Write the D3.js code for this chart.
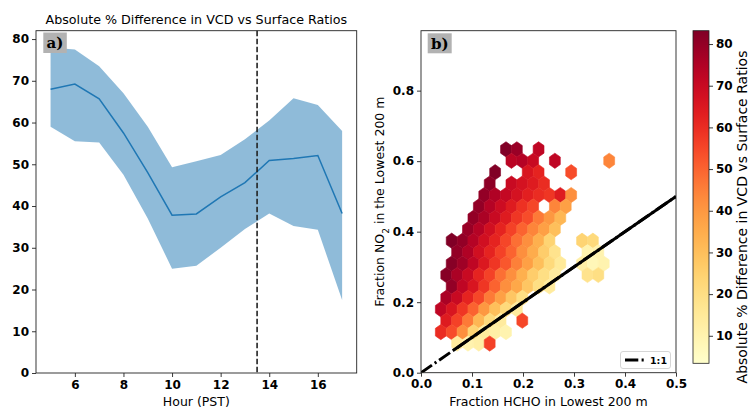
<!DOCTYPE html>
<html><head><meta charset="utf-8">
<script src="https://cdn.jsdelivr.net/npm/d3@7"></script>
<style>
body{margin:0;background:#fff}
text{font-family:"DejaVu Sans",sans-serif}
</style>
</head><body><svg id="c" width="750" height="408" xmlns="http://www.w3.org/2000/svg"></svg>
<script>
// ---------- Panel a data ----------
const hours = [5,6,7,8,9,10,11,12,13,14,15,16,17];
const meanDiff  = [68.0,69.2,65.7,57.5,48.0,37.8,38.1,42.2,45.6,50.9,51.4,52.1,38.2];
const upperDiff = [78.0,77.5,73.5,67.0,59.0,49.3,50.7,52.2,56.0,60.5,65.8,64.2,58.0];
const lowerDiff = [59.0,55.5,55.2,47.5,37.0,25.0,25.7,30.0,34.5,38.2,35.2,34.3,17.5];
const overpassHour = 13.5;
const hourTicks = [6,8,10,12,14,16];
const diffTicks = [0,10,20,30,40,50,60,70,80];

// ---------- Panel b data (hexbin cells) ----------
const hexOrigin = [0.1986, 0.1475];   // centre of reference cell (col 0,row 0)
const hexStep = [0.0213, 0.0324];     // column width, row spacing (data units)
const hexRows  = [15,14,13,12,11,10,9,8,7,6,5,4,3,2,1,0,-1,-2];
const hexStart = [-2,-1,-3,-3,-4,-4,-5,-5,-7,-6,-7,-7,-7,-7,-8,-7,-8,-6];
const hexValues = [
  [83,79,null,72],
  [73,74,70,null,72,null,null,null,null,44],
  [83,null,null,66,62,null,null,54],
  [81,null,70,67,64,60],
  [80,75,71,67,63,60,58,64,42],
  [80,74,69,64,59,55,null,44,38],
  [80,76,70,64,58,54,46,40,32],
  [79,74,68,62,56,50,44,38,30],
  [84,80,74,68,62,55,48,42,34,24,null,null,24,22],
  [80,75,68,62,56,50,42,35,26,18,null,null,10,10],
  [82,78,72,65,58,52,45,38,30,22,15,null,12,8,10],
  [82,76,70,62,56,48,42,34,26,20,14,null,null,18,20],
  [80,72,66,58,50,42,36,28,20,14],
  [76,70,62,55,46,38,28,20],
  [72,66,58,50,40,30,22,14],
  [64,56,46,32,22,14,null,55],
  [60,54,42,24,14,12,10],
  [14,10,12,56]
];
const fracTicksX = [0.0,0.1,0.2,0.3,0.4,0.5];
const fracTicksY = [0.0,0.2,0.4,0.6,0.8];
const oneToOneDashed = [[0,0],[0.5,0.5]];
const oneToOneSolid = [[0.065,0.065],[0.5,0.5]];
const cbarTicks = [10,20,30,40,50,60,70,80];
const cbarDomain = [3.4,83.2];

const svg = d3.select("#c");

// ================= Panel a =================
const A = {l:36,r:356.7,t:30.7,b:373};
const xA = d3.scaleLinear().domain([4.4,17.6]).range([A.l,A.r]);
const yA = d3.scaleLinear().domain([0,82]).range([A.b,A.t]);
const gA = svg.append("g");

gA.append("path")
  .datum(hours.map((h,i)=>[h,lowerDiff[i],upperDiff[i]]))
  .attr("fill","#1f77b4").attr("fill-opacity",0.5)
  .attr("d", d3.area().x(d=>xA(d[0])).y0(d=>yA(d[1])).y1(d=>yA(d[2])));
gA.append("path")
  .datum(hours.map((h,i)=>[h,meanDiff[i]]))
  .attr("fill","none").attr("stroke","#1f77b4").attr("stroke-width",1.5)
  .attr("d", d3.line().x(d=>xA(d[0])).y(d=>yA(d[1])));
gA.append("line")
  .attr("x1",xA(overpassHour)).attr("x2",xA(overpassHour))
  .attr("y1",A.t).attr("y2",A.b)
  .attr("stroke","#222").attr("stroke-width",1.6).attr("stroke-dasharray","5.5,2.5");

function styleAxis(g){
  g.select(".domain").remove();
  g.selectAll(".tick line").attr("stroke","#222").attr("stroke-width",0.9);
  g.selectAll(".tick text").attr("fill","#000").style("font-family","DejaVu Sans")
    .style("font-size","12px").style("font-weight","bold");
}
gA.append("g").attr("transform",`translate(0,${A.b})`)
  .call(d3.axisBottom(xA).tickValues(hourTicks).tickFormat(d3.format("d")).tickSize(4).tickPadding(3))
  .call(styleAxis);
gA.append("g").attr("transform",`translate(${A.l},0)`)
  .call(d3.axisLeft(yA).tickValues(diffTicks).tickFormat(d3.format("d")).tickSize(4).tickPadding(3))
  .call(styleAxis);
gA.append("rect").attr("x",A.l).attr("y",A.t).attr("width",A.r-A.l).attr("height",A.b-A.t)
  .attr("fill","none").attr("stroke","#222").attr("stroke-width",0.9);
gA.append("text").attr("x",(A.l+A.r)/2).attr("y",24).attr("text-anchor","middle")
  .style("font-size","12.7px").text("Absolute % Difference in VCD vs Surface Ratios");
gA.append("text").attr("x",(A.l+A.r)/2).attr("y",406).attr("text-anchor","middle")
  .style("font-size","12.5px").text("Hour (PST)");
gA.append("rect").attr("x",43.3).attr("y",32.5).attr("width",23.5).attr("height",20.5).attr("fill","#b2b2b2");
gA.append("text").attr("x",55).attr("y",48).attr("text-anchor","middle")
  .style("font-family","DejaVu Serif").style("font-weight","bold").style("font-size","15px").text("a)");

// ================= Panel b =================
const B = {l:421,r:676,t:30.7,b:372.7};
const xB = d3.scaleLinear().domain([0,0.5]).range([B.l,B.r]);
const yB = d3.scaleLinear().domain([0,0.97]).range([B.b,B.t]);
const color = d3.scaleSequential(d3.interpolateYlOrRd).domain(cbarDomain);
const gB = svg.append("g");
svg.append("clipPath").attr("id","clipB").append("rect")
  .attr("x",B.l).attr("y",B.t).attr("width",B.r-B.l).attr("height",B.b-B.t);

const cells = [];
hexRows.forEach((r,i)=>{
  hexValues[i].forEach((v,j)=>{
    if(v==null) return;
    const k = hexStart[i]+j;
    const cx = hexOrigin[0] + k*hexStep[0] + ((r%2!==0)? hexStep[0]/2 : 0);
    const cy = hexOrigin[1] + r*hexStep[1];
    cells.push({cx,cy,v});
  });
});
const sx = hexStep[0], sy = 2*hexStep[1];
const hexOff = [[0.5,-0.5],[0.5,0.5],[0,1],[-0.5,0.5],[-0.5,-0.5],[0,-1]].map(p=>[p[0]*sx,p[1]*sy/3]);
gB.append("g").attr("clip-path","url(#clipB)").selectAll("path").data(cells).join("path")
  .attr("d", d=>"M"+hexOff.map(o=>[xB(d.cx+o[0]),yB(d.cy+o[1])].join(",")).join("L")+"Z")
  .attr("fill", d=>color(d.v)).attr("stroke", d=>color(d.v)).attr("stroke-width",0.6);

const line11 = d3.line().x(d=>xB(d[0])).y(d=>yB(d[1]));
gB.append("path").datum(oneToOneDashed).attr("clip-path","url(#clipB)")
  .attr("fill","none").attr("stroke","#000").attr("stroke-width",3)
  .attr("stroke-dasharray","13.3,3.3,2.1,3.3").attr("d", line11);
gB.append("path").datum(oneToOneSolid).attr("clip-path","url(#clipB)")
  .attr("fill","none").attr("stroke","#000").attr("stroke-width",3).attr("d", line11);

gB.append("g").attr("transform",`translate(0,${B.b})`)
  .call(d3.axisBottom(xB).tickValues(fracTicksX).tickFormat(d3.format(".1f")).tickSize(4).tickPadding(3))
  .call(styleAxis);
gB.append("g").attr("transform",`translate(${B.l},0)`)
  .call(d3.axisLeft(yB).tickValues(fracTicksY).tickFormat(d3.format(".1f")).tickSize(4).tickPadding(3))
  .call(styleAxis);
gB.append("rect").attr("x",B.l).attr("y",B.t).attr("width",B.r-B.l).attr("height",B.b-B.t)
  .attr("fill","none").attr("stroke","#222").attr("stroke-width",0.9);
gB.append("text").attr("x",(B.l+B.r)/2).attr("y",406).attr("text-anchor","middle")
  .style("font-size","12.5px").text("Fraction HCHO in Lowest 200 m");
const yl = gB.append("text").attr("transform",`translate(384,${(B.t+B.b)/2}) rotate(-90)`)
  .attr("text-anchor","middle").style("font-size","12.5px");
yl.append("tspan").text("Fraction NO");
yl.append("tspan").attr("baseline-shift","sub").style("font-size","9px").text("2");
yl.append("tspan").text(" in the Lowest 200 m");
gB.append("rect").attr("x",427.7).attr("y",33.3).attr("width",24).attr("height",20).attr("fill","#b2b2b2");
gB.append("text").attr("x",439.7).attr("y",48.5).attr("text-anchor","middle")
  .style("font-family","DejaVu Serif").style("font-weight","bold").style("font-size","15px").text("b)");

// legend
const lg = gB.append("g");
lg.append("rect").attr("x",620.5).attr("y",351.5).attr("width",50).attr("height",17).attr("rx",2.5)
  .attr("fill","#fff").attr("fill-opacity",0.8).attr("stroke","#ccc").attr("stroke-width",0.8);
lg.append("line").attr("x1",625).attr("x2",644).attr("y1",360).attr("y2",360)
  .attr("stroke","#000").attr("stroke-width",3).attr("stroke-dasharray","13.3,3.3,2.1,3.3");
lg.append("text").attr("x",650).attr("y",363.5).style("font-size","9.5px").style("font-weight","bold").text("1:1");

// ================= Colorbar =================
const C = {l:693,r:709,t:30.7,b:363.3};
const yC = d3.scaleLinear().domain(cbarDomain).range([C.b,C.t]);
const defs = svg.append("defs");
const grad = defs.append("linearGradient").attr("id","cg").attr("x1",0).attr("y1",1).attr("x2",0).attr("y2",0);
d3.range(0,1.0001,0.05).forEach(t=>{
  grad.append("stop").attr("offset",t).attr("stop-color",d3.interpolateYlOrRd(t));
});
svg.append("rect").attr("x",C.l).attr("y",C.t).attr("width",C.r-C.l).attr("height",C.b-C.t)
  .attr("fill","url(#cg)").attr("stroke","#222").attr("stroke-width",0.8);
svg.append("g").attr("transform",`translate(${C.r},0)`)
  .call(d3.axisRight(yC).tickValues(cbarTicks).tickFormat(d3.format("d")).tickSize(4).tickPadding(3))
  .call(styleAxis);
svg.append("text").attr("transform",`translate(747,217) rotate(-90)`)
  .attr("text-anchor","middle").style("font-size","14px")
  .text("Absolute % Difference in VCD vs Surface Ratios");
</script>
</body></html>
